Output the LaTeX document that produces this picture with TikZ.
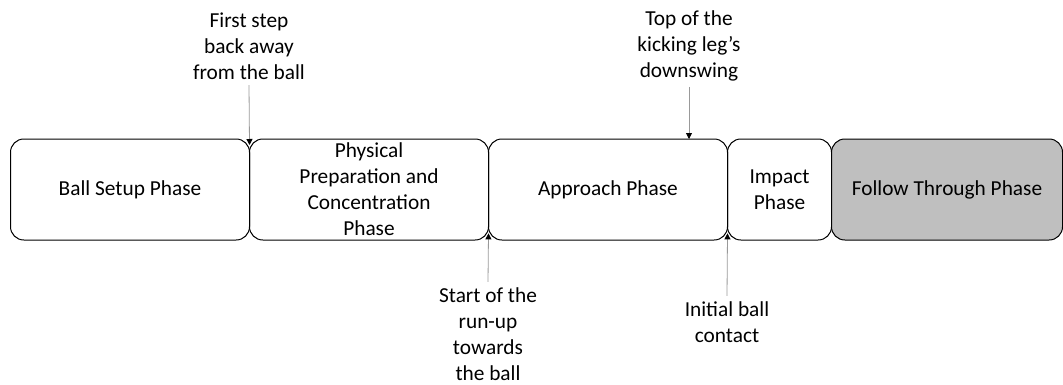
\documentclass[tikz,border=0pt]{standalone}
\usepackage{fontspec}
\setmainfont{Carlito}
\usetikzlibrary{arrows.meta,positioning}

\begin{document}
\begin{tikzpicture}[
    x=0.75pt, y=-0.75pt,
    node distance=0pt,
    every node/.style={font=\fontsize{16}{19.5}\selectfont},
    phase/.style={draw, line width=0.75pt, rectangle, rounded corners=10pt, minimum height=75.75pt, inner sep=0pt, outer sep=0pt, align=center},
    event/.style={align=center, inner sep=4pt},
    marker/.style={draw=black!40, line width=0.6pt, -{Triangle[length=4.5pt, width=4.5pt, color=black]}}
]
    \useasboundingbox (0,0) rectangle (1063,385);

    % Phases
    \node[phase, minimum width=179.25pt, anchor=north west] (setup) at (10.5,139) {Ball Setup Phase};
    \node[phase, minimum width=179.25pt, right=of setup] (prep) {Physical\\Preparation and\\Concentration\\Phase};
    \node[phase, minimum width=179.25pt, right=of prep] (approach) {Approach Phase};
    \node[phase, minimum width=78pt, right=of approach] (impact) {Impact\\Phase};
    \node[phase, minimum width=173.25pt, fill=gray!50, right=of impact] (follow) {Follow Through Phase};

    % Events
    \node[event] (firststep) at (249,46) {First step\\back away\\from the ball};
    \node[event] (topswing) at (689,46) {Top of the\\kicking leg’s\\downswing};
    \node[event] (runup) at (488,334) {Start of the\\run-up\\towards\\the ball};
    \node[event] (contact) at (727,322) {Initial ball\\contact};

    % Arrows
    \draw[marker] (firststep.south) -- ([yshift=-4.5pt]setup.north east);
    \draw[marker] (topswing.south) -- (topswing.south |- approach.north);
    \draw[marker] (runup.north) -- ([yshift=5pt]prep.south east);
    \draw[marker] (contact.north) -- ([yshift=5pt]approach.south east);
\end{tikzpicture}
\end{document}
